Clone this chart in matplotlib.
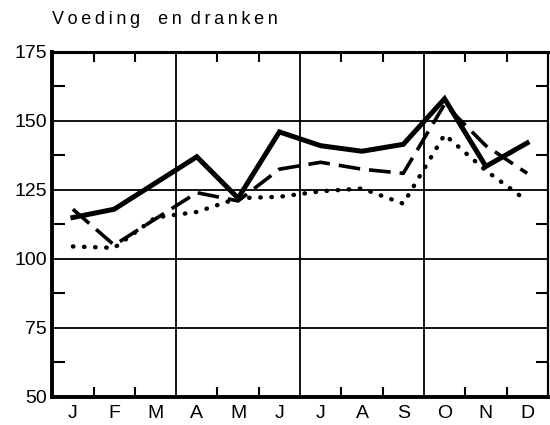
import matplotlib
matplotlib.use('Agg')
import matplotlib.pyplot as plt
import numpy as np

months = ['J', 'F', 'M', 'A', 'M', 'J', 'J', 'A', 'S', 'O', 'N', 'D']

# three series
solid = [115, 118, 127.5, 137, 122, 146, 141, 139, 141.5, 158, 133.5, 142]
dashed = [118, 105, 114.5, 124, 121, 132.5, 135, 132.5, 131, 156, 141, 131]
dotted = [104.5, 104, 115, 117, 122, 122.5, 124.5, 125.5, 120, 145, 132, 121]

yticks = [50, 75, 100, 125, 150, 175]

plt.rcParams['font.family'] = ['Liberation Sans', 'DejaVu Sans']

fig = plt.figure(figsize=(5.5, 4.25), dpi=100)
ax = fig.add_axes([0.095, 0.066, 0.901, 0.812])

x = np.arange(len(months))

# grid
for v in yticks[1:-1]:
    ax.axhline(v, color='black', lw=1.3, zorder=1)
for v in [2.5, 5.5, 8.5]:
    ax.axvline(v, color='black', lw=1.3, zorder=1)

ax.plot(x, dotted, color='black', lw=3.2, linestyle=(0, (0.1, 2.4)),
        dash_capstyle='round', zorder=3)
ax.plot(x, dashed, color='black', lw=2.6, linestyle=(0, (6, 2.5)), zorder=3)
ax.plot(x, solid, color='black', lw=3.6, solid_joinstyle='miter', zorder=4)

ax.set_xlim(-0.5, 11.5)
ax.set_ylim(50, 175)

ax.set_xticks(x)
ax.set_xticklabels(months, fontsize=14)
ax.tick_params(axis='x', length=0, pad=6)
minor_x = [0.5, 1.5, 3.5, 4.5, 6.5, 7.5, 9.5, 10.5]
ax.set_xticks(minor_x, minor=True)
ax.tick_params(axis='x', which='minor', direction='in', length=7, width=1.5,
               top=True, bottom=True)

ax.set_yticks(yticks)
ax.set_yticklabels([str(v) for v in yticks], fontsize=14)
ax.tick_params(axis='y', length=0, pad=4)
ax.set_yticks([62.5, 87.5, 112.5, 137.5, 162.5], minor=True)
ax.tick_params(axis='y', which='minor', direction='in', length=9, width=1.5,
               left=True, right=True)

for side in ['left', 'bottom']:
    ax.spines[side].set_linewidth(2.8)
ax.spines['top'].set_linewidth(2.2)
ax.spines['right'].set_linewidth(1.6)

title = '\u2009'.join('Voeding') + '\u2003' + '\u2009'.join('en') + '\u2002' + '\u2009'.join('dranken')
fig.text(0.095, 0.935, title, fontsize=13, ha='left', va='bottom')

fig.savefig('out.png', dpi=100)
